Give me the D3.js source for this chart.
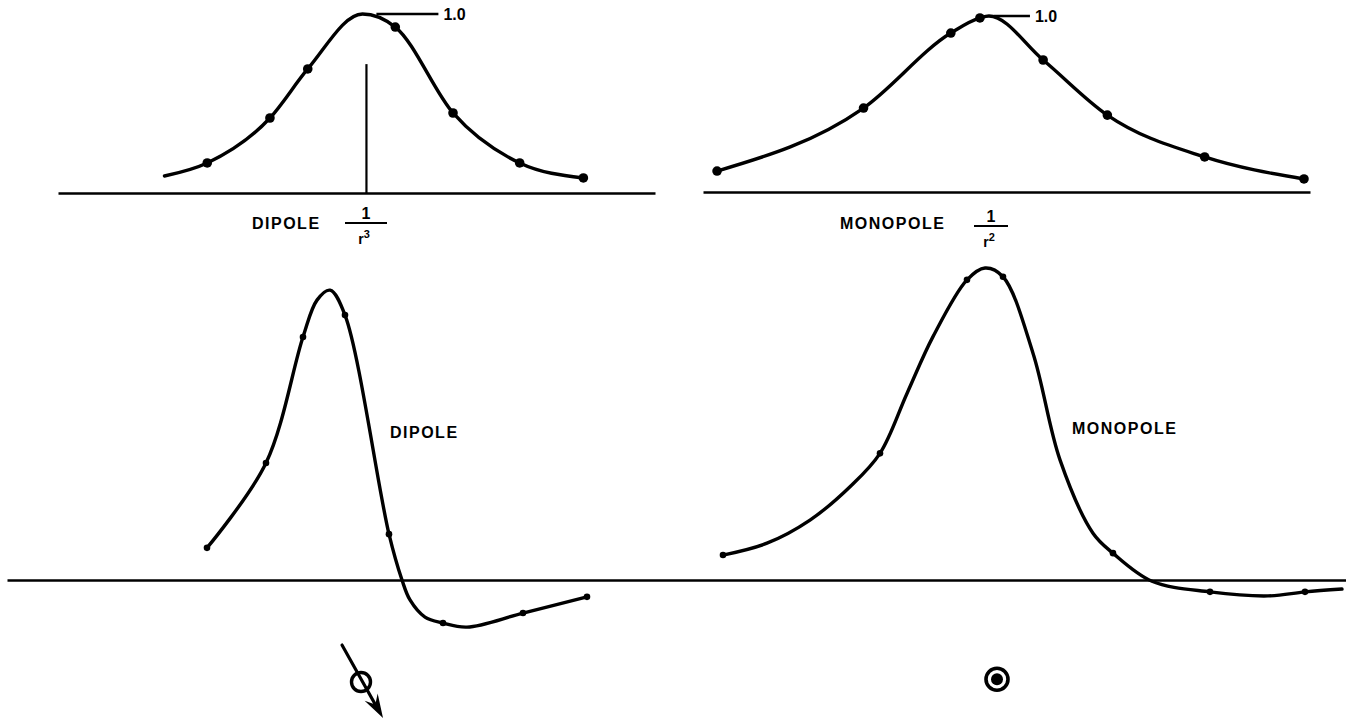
<!DOCTYPE html>
<html>
<head>
<meta charset="utf-8">
<script src="https://cdn.jsdelivr.net/npm/d3@7/dist/d3.min.js"></script>
<style>
  body { margin: 0; background: #fff; }
  svg { display: block; }
  text { font-family: "Liberation Sans", Arial, sans-serif; font-weight: bold; fill: #000; }
</style>
</head>
<body>
<div id="container"></div>
<script>
'use strict'
// top left: dipole, 1/r^3 (x in arbitrary distance units, y normalised to peak = 1.0)
const dipoleTopX   = [-2.03, -1.60, -0.97, -0.59, -0.04, 0.29, 0.87, 1.54, 2.18];
const dipoleTopY   = [0.095, 0.168, 0.419, 0.693, 1.0, 0.927, 0.447, 0.168, 0.084];
const dipoleTopDot = [0, 1, 1, 1, 0, 1, 1, 1, 1];
const dipoleMarkerTop = 0.72;   // height of the vertical line at x = 0

// top right: monopole, 1/r^2
const monoTopX   = [-2.71, -1.25, -0.38, -0.09, 0.0, 0.54, 1.18, 2.15, 3.14];
const monoTopY   = [0.119, 0.477, 0.903, 0.989, 1.0, 0.75, 0.437, 0.199, 0.074];
const monoTopDot = [1, 1, 1, 1, 0, 1, 1, 1, 1];

// bottom left: measured dipole
const dipoleBotX   = [2.00, 2.59, 2.96, 3.10, 3.23, 3.38, 3.82, 3.95, 4.03, 4.18, 4.36, 4.60, 5.16, 5.80];
const dipoleBotY   = [0.103, 0.375, 0.779, 0.897, 0.929, 0.849, 0.147, 0.0, -0.064, -0.119, -0.138, -0.151, -0.106, -0.054];
const dipoleBotDot = [1, 1, 1, 0, 0, 1, 1, 0, 0, 0, 1, 0, 1, 1];

// bottom right: measured monopole
const monoBotX   = [7.16, 7.60, 8.03, 8.43, 8.73, 9.00, 9.26, 9.60, 9.78, 9.96, 10.26, 10.53, 10.86, 11.06, 11.45, 12.03, 12.61, 12.98, 13.35];
const monoBotY   = [0.080, 0.118, 0.192, 0.299, 0.406, 0.598, 0.780, 0.962, 1.0, 0.972, 0.727, 0.385, 0.150, 0.086, -0.004, -0.038, -0.051, -0.038, -0.029];
const monoBotDot = [1, 0, 0, 0, 1, 0, 0, 1, 0, 1, 0, 0, 0, 1, 0, 1, 0, 1, 0];

// source symbols under the bottom curves
const symbolX    = [3.54, 9.90];
const symbolY    = [-0.327, -0.318];
const symbolKind = ['arrow', 'dot'];

const peakLabel = "1.0";

const w = 1346;
const h = 723;
const svg = d3.select("#container")
              .append("svg")
              .attr("width", w)
              .attr("height", h);

//Scales
const xTL = d3.scaleLinear().domain([-3.1, 2.9]).range([58, 655]);
const yTL = d3.scaleLinear().domain([0, 1]).range([193, 14]);
const xTR = d3.scaleLinear().domain([-2.85, 3.2]).range([703, 1310]);
const yTR = d3.scaleLinear().domain([0, 1]).range([192, 16]);
const xB  = d3.scaleLinear().domain([0, 13.39]).range([7, 1346]);
const yB  = d3.scaleLinear().domain([0, 1]).range([580, 268]);

//Baselines (axis domain only, no ticks)
function baseline(xScale, y, sw) {
  const g = svg.append("g").attr("transform", "translate(0," + y + ")")
               .call(d3.axisBottom(xScale).tickValues([]).tickSizeOuter(0));
  g.select(".domain").attr("stroke", "#000").attr("stroke-width", sw);
}
baseline(xTL, yTL(0), 2.6);
baseline(xTR, yTR(0), 2.6);
baseline(xB, yB(0), 2.6);

//Curves with dots
function curve(xs, ys, dots, xScale, yScale, r, interp) {
  const pts = xs.map((x, i) => ({x: x, y: ys[i], dot: dots[i]}));
  const line = d3.line()
                 .x(d => xScale(d.x))
                 .y(d => yScale(d.y))
                 .curve(interp);
  svg.append("path").datum(pts)
     .attr("d", line)
     .attr("fill", "none").attr("stroke", "#000")
     .attr("stroke-width", 3.4)
     .attr("stroke-linejoin", "round").attr("stroke-linecap", "round");
  svg.append("g").selectAll("circle")
     .data(pts.filter(d => d.dot))
     .enter()
     .append("circle")
     .attr("cx", d => xScale(d.x))
     .attr("cy", d => yScale(d.y))
     .attr("r", r)
     .attr("fill", "#000");
}
const smooth = d3.curveCatmullRom.alpha(0.5);
curve(dipoleTopX, dipoleTopY, dipoleTopDot, xTL, yTL, 4.8, d3.curveMonotoneX);
curve(monoTopX, monoTopY, monoTopDot, xTR, yTR, 4.8, d3.curveMonotoneX);
curve(dipoleBotX, dipoleBotY, dipoleBotDot, xB, yB, 3.3, smooth);
curve(monoBotX, monoBotY, monoBotDot, xB, yB, 3.3, smooth);

//Vertical line under the dipole peak
svg.append("line")
   .attr("x1", xTL(0)).attr("x2", xTL(0))
   .attr("y1", yTL(0)).attr("y2", yTL(dipoleMarkerTop))
   .attr("stroke", "#000").attr("stroke-width", 2.2);

//Peak labels "1.0"
function peakTag(x1, x2, y, base) {
  svg.append("line").attr("x1", x1).attr("x2", x2).attr("y1", y).attr("y2", y)
     .attr("stroke", "#000").attr("stroke-width", 2.4);
  svg.append("text").attr("x", x2 + 5).attr("y", base)
     .style("font-size", "16px").text(peakLabel);
}
peakTag(xTL(0.1), xTL(0.1) + 62, yTL(1), yTL(1) + 6);
peakTag(xTR(0.05), xTR(0.05) + 36, yTR(1), yTR(1) + 6);

//Panel labels
function label(x, y, t) {
  svg.append("text").attr("x", x).attr("y", y)
     .style("font-size", "16px").style("letter-spacing", "1.5px")
     .text(t);
}
label(252, 229, "DIPOLE");
label(840, 229, "MONOPOLE");
label(390, 438, "DIPOLE");
label(1072, 434, "MONOPOLE");

//Fractions 1 / r^n
function fraction(cx, yLine, half, n) {
  svg.append("text").attr("x", cx).attr("y", yLine - 4.5)
     .attr("text-anchor", "middle").style("font-size", "16px").text("1");
  svg.append("line").attr("x1", cx - half).attr("x2", cx + half)
     .attr("y1", yLine).attr("y2", yLine)
     .attr("stroke", "#000").attr("stroke-width", 1.8);
  const t = svg.append("text").attr("x", cx - 2).attr("y", yLine + 21)
     .attr("text-anchor", "middle").style("font-size", "14px");
  t.append("tspan").text("r");
  t.append("tspan").attr("dy", -6).style("font-size", "11px").text(n);
}
fraction(366, 223, 21, "3");
fraction(991, 226, 17, "2");

//Source symbols
symbolKind.forEach((k, i) => {
  const cx = xB(symbolX[i]);
  const cy = yB(symbolY[i]);
  if (k === 'arrow') {
    svg.append("line")
       .attr("x1", cx - 19).attr("y1", cy - 37)
       .attr("x2", cx + 14).attr("y2", cy + 22)
       .attr("stroke", "#000").attr("stroke-width", 3.2).attr("stroke-linecap", "round");
    // arrow head along the same direction
    const tipX = cx + 22, tipY = cy + 36;
    const ux = 0.494, uy = 0.870, len = 24, hw = 7.5;
    const bx = tipX - ux * len, by = tipY - uy * len;
    const head = d3.path();
    head.moveTo(tipX, tipY);
    head.lineTo(bx - uy * hw, by + ux * hw);
    head.lineTo(tipX - ux * len * 0.65, tipY - uy * len * 0.65);
    head.lineTo(bx + uy * hw, by - ux * hw);
    head.closePath();
    svg.append("path").attr("d", head.toString()).attr("fill", "#000");
    svg.append("circle").attr("cx", cx).attr("cy", cy).attr("r", 9.5)
       .attr("fill", "none").attr("stroke", "#000").attr("stroke-width", 3.4);
  } else {
    svg.append("circle").attr("cx", cx).attr("cy", cy).attr("r", 11)
       .attr("fill", "none").attr("stroke", "#000").attr("stroke-width", 3.6);
    svg.append("circle").attr("cx", cx).attr("cy", cy).attr("r", 6)
       .attr("fill", "#000");
  }
});
</script>
</body>
</html>
